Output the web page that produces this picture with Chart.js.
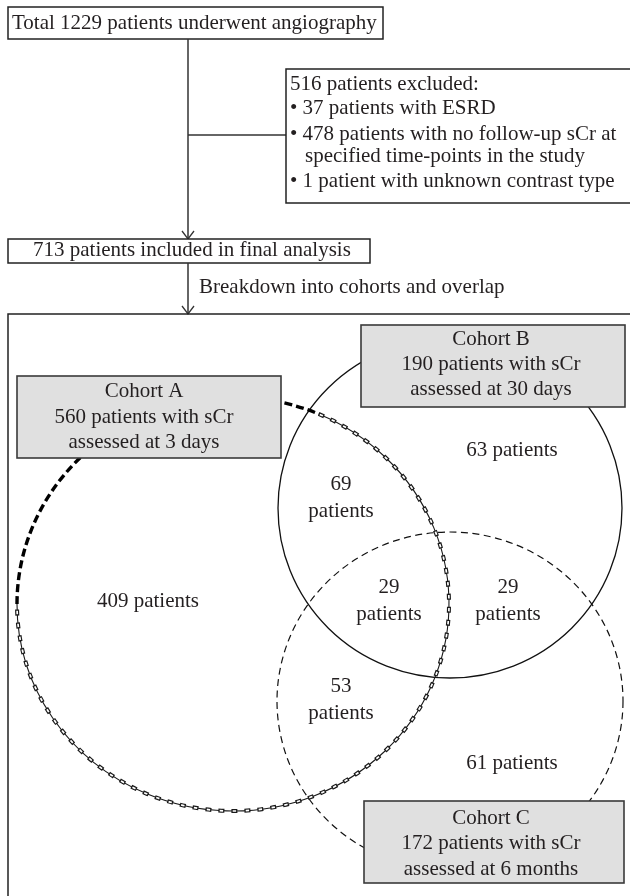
<!DOCTYPE html>
<html>
<head>
<meta charset="utf-8">
<script src="https://cdn.jsdelivr.net/npm/chart.js@4.4.1/dist/chart.umd.min.js"></script>
<style>
  html, body { margin: 0; padding: 0; background: #ffffff; }
  #wrap { position: relative; width: 630px; height: 896px; }
</style>
</head>
<body>
<div id="wrap"><canvas id="c"></canvas></div>
<script>
// ---------------- DATA ----------------
const totalPatients = 1229;
const excludedPatients = 516;
const exclusionCounts = [37, 478, 1];
const exclusionReasons = [
  ['patients with ESRD'],
  ['patients with no follow-up sCr at', 'specified time-points in the study'],
  ['patient with unknown contrast type']
];
const includedPatients = 713;
const cohortNames = ['Cohort A', 'Cohort B', 'Cohort C'];
const cohortPatients = [560, 190, 172];
const cohortTiming = ['3 days', '30 days', '6 months'];
const regionNames = ['A only', 'A∩B', 'B only', 'A∩B∩C', 'B∩C', 'A∩C', 'C only'];
const regionCounts = [409, 69, 63, 29, 29, 53, 61];
const regionTwoLine = [false, true, false, true, true, true, false];

// ---------------- LAYOUT (diagram units, 1 unit = 1 px) ----------------
const FONT = '21px "Liberation Serif", "Times New Roman", serif';
const INK = '#231f20';
const layout = {
  totalBox: [8, 7, 383, 39], totalText: [12, 29],
  trunkX: 188,
  exclBox: [286, 69, 640, 203], exclBranchY: 135,
  exclTextX: 290, exclIndentX: 305,
  exclBaselines: [90, 114, 140, 162, 187],
  inclBox: [8, 239, 370, 263], inclText: [33, 256],
  breakdownText: [199, 293],
  bigBox: [8, 314, 640, 905],
  circles: [
    { cx: 233, cy: 604, rx: 216, ry: 207 },   // A
    { cx: 450, cy: 508, rx: 172, ry: 170 },   // B
    { cx: 450, cy: 701, rx: 173, ry: 169 }    // C
  ],
  cohortBoxes: [[17, 376, 281, 458], [361, 325, 625, 407], [364, 801, 624, 883]],
  cohortTextX: [144, 491, 491],
  cohortBaselines: [[397, 423, 448], [345, 370, 395], [824, 849, 875]],
  regionPos: [[148, 607], [341, 490], [512, 456], [389, 593], [508, 593], [341, 692], [512, 769]],
  lineGap: 27
};

const regionPoints = regionCounts.map((v, i) => ({ x: layout.regionPos[i][0], y: layout.regionPos[i][1], v: v }));

// ---------------- DRAWING PLUGIN ----------------
const diagramPlugin = {
  id: 'diagram',
  beforeDatasetsDraw(chart) {
    const ctx = chart.ctx;
    const xs = chart.scales.x, ys = chart.scales.y;
    const X = v => xs.getPixelForValue(v);
    const Y = v => ys.getPixelForValue(v);
    const rect = (b, fill, stroke, lw) => {
      const x0 = X(b[0]), y0 = Y(b[1]), x1 = X(b[2]), y1 = Y(b[3]);
      if (fill) { ctx.fillStyle = fill; ctx.fillRect(x0, y0, x1 - x0, y1 - y0); }
      ctx.strokeStyle = stroke; ctx.lineWidth = lw; ctx.setLineDash([]);
      ctx.strokeRect(x0, y0, x1 - x0, y1 - y0);
    };
    const line = (x0, y0, x1, y1, lw) => {
      ctx.beginPath(); ctx.moveTo(X(x0), Y(y0)); ctx.lineTo(X(x1), Y(y1));
      ctx.strokeStyle = '#333'; ctx.lineWidth = lw || 1.5; ctx.setLineDash([]); ctx.stroke();
    };
    const arrowDown = (x, y) => {
      ctx.beginPath(); ctx.moveTo(X(x - 6), Y(y - 8)); ctx.lineTo(X(x), Y(y)); ctx.lineTo(X(x + 6), Y(y - 8));
      ctx.strokeStyle = '#333'; ctx.lineWidth = 1.3; ctx.setLineDash([]); ctx.stroke();
    };
    const text = (s, x, y, align) => {
      ctx.font = FONT; ctx.fillStyle = INK; ctx.textAlign = align || 'left'; ctx.textBaseline = 'alphabetic';
      ctx.fillText(s, X(x), Y(y));
    };
    ctx.save();
    ctx.fillStyle = '#fff'; ctx.fillRect(0, 0, chart.width, chart.height);

    // flow part
    rect(layout.totalBox, '#fff', '#222', 1.5);
    text('Total ' + totalPatients + ' patients underwent angiography', layout.totalText[0], layout.totalText[1]);
    line(layout.trunkX, layout.totalBox[3], layout.trunkX, layout.inclBox[1]);
    arrowDown(layout.trunkX, layout.inclBox[1]);
    line(layout.trunkX, layout.exclBranchY, layout.exclBox[0], layout.exclBranchY);
    rect(layout.exclBox, '#fff', '#222', 1.5);
    const bl = layout.exclBaselines;
    text(excludedPatients + ' patients excluded:', layout.exclTextX, bl[0]);
    let li = 1;
    exclusionCounts.forEach((n, i) => {
      exclusionReasons[i].forEach((r, j) => {
        if (j === 0) text('\u2022 ' + n + ' ' + r, layout.exclTextX, bl[li]);
        else text(r, layout.exclIndentX, bl[li]);
        li++;
      });
    });
    rect(layout.inclBox, '#fff', '#222', 1.5);
    text(includedPatients + ' patients included in final analysis', layout.inclText[0], layout.inclText[1]);
    line(layout.trunkX, layout.inclBox[3], layout.trunkX, layout.bigBox[1]);
    arrowDown(layout.trunkX, layout.bigBox[1]);
    text('Breakdown into cohorts and overlap', layout.breakdownText[0], layout.breakdownText[1]);
    rect(layout.bigBox, null, '#222', 1.5);

    // circles
    const ell = (c, a0, a1) => {
      const cx = X(c.cx), cy = Y(c.cy);
      const rx = Math.abs(X(c.cx + c.rx) - cx), ry = Math.abs(Y(c.cy + c.ry) - cy);
      ctx.beginPath(); ctx.ellipse(cx, cy, rx, ry, 0, a0, a1);
    };
    const [cA, cB, cC] = layout.circles;
    // B solid
    ell(cB, 0, Math.PI * 2); ctx.setLineDash([]); ctx.strokeStyle = '#111'; ctx.lineWidth = 1.3; ctx.stroke();
    // C dashed
    ell(cC, 0, Math.PI * 2); ctx.setLineDash([7, 4.5]); ctx.strokeStyle = '#111'; ctx.lineWidth = 1.2; ctx.stroke();
    // A thick dashes (left & top)
    const tSplit = 5.12;
    ell(cA, Math.PI, tSplit); ctx.setLineDash([8, 4]); ctx.strokeStyle = '#000'; ctx.lineWidth = 3.4; ctx.stroke();
    // A chain style (rest)
    ell(cA, tSplit, Math.PI * 3); ctx.setLineDash([]); ctx.strokeStyle = '#1a1a1a'; ctx.lineWidth = 1.1; ctx.stroke();
    ell(cA, tSplit, Math.PI * 3); ctx.setLineDash([6, 7]); ctx.lineDashOffset = 0; ctx.strokeStyle = '#1a1a1a'; ctx.lineWidth = 4; ctx.stroke();
    ell(cA, tSplit, Math.PI * 3); ctx.setLineDash([3.4, 9.6]); ctx.lineDashOffset = -1.3; ctx.strokeStyle = '#fff'; ctx.lineWidth = 1.7; ctx.stroke();
    ctx.lineDashOffset = 0; ctx.setLineDash([]);

    // cohort boxes
    layout.cohortBoxes.forEach((b, i) => {
      rect(b, '#e0e0e0', '#3a3a3a', 1.6);
      const cx = layout.cohortTextX[i], yb = layout.cohortBaselines[i];
      text(cohortNames[i], cx, yb[0], 'center');
      text(cohortPatients[i] + ' patients with sCr', cx, yb[1], 'center');
      text('assessed at ' + cohortTiming[i], cx, yb[2], 'center');
    });
    ctx.restore();
  },
  afterDatasetsDraw(chart) {
    const ctx = chart.ctx;
    const meta = chart.getDatasetMeta(0);
    ctx.save();
    ctx.font = FONT; ctx.fillStyle = INK; ctx.textAlign = 'center'; ctx.textBaseline = 'alphabetic';
    meta.data.forEach((pt, i) => {
      const n = regionCounts[i];
      if (regionTwoLine[i]) {
        ctx.fillText(String(n), pt.x, pt.y);
        ctx.fillText('patients', pt.x, pt.y + layout.lineGap);
      } else {
        ctx.fillText(n + ' patients', pt.x, pt.y);
      }
    });
    ctx.restore();
  }
};

new Chart(document.getElementById('c'), {
  type: 'scatter',
  data: {
    datasets: [{
      label: 'Patients per region',
      data: regionPoints,
      pointRadius: 0,
      pointHoverRadius: 0,
      showLine: false
    }]
  },
  options: {
    responsive: true,
    maintainAspectRatio: false,
    animation: false,
    events: [],
    layout: { padding: 0 },
    plugins: { legend: { display: false }, tooltip: { enabled: false } },
    scales: {
      x: { type: 'linear', min: 0, max: 630, display: false },
      y: { type: 'linear', min: 0, max: 896, reverse: true, display: false }
    }
  },
  plugins: [diagramPlugin]
});
</script>
</body>
</html>
